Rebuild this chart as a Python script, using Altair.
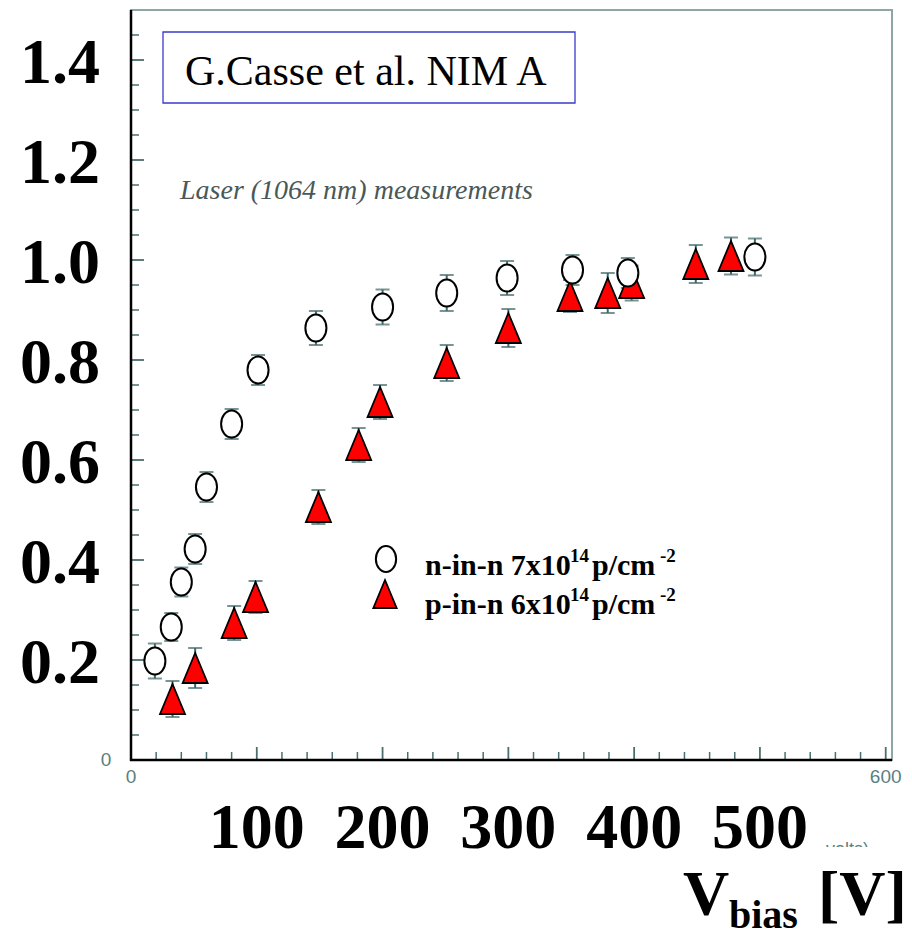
import altair as alt
import pandas as pd

# ---------------- data ----------------
# n-in-n 7x10^14 p/cm^2  (open circles)
n_vbias = [19, 32, 40, 51, 60, 80, 101, 147, 200, 251, 299, 351, 395, 496]
n_cce = [0.198, 0.266, 0.356, 0.422, 0.546, 0.672, 0.780, 0.864, 0.906, 0.934, 0.964, 0.980, 0.974, 1.006]
n_err = [0.035, 0.028, 0.029, 0.030, 0.030, 0.030, 0.030, 0.034, 0.035, 0.036, 0.034, 0.030, 0.030, 0.037]

# p-in-n 6x10^14 p/cm^2  (red triangles)
p_vbias = [33, 51, 82, 99, 149, 181, 198, 251, 300, 349, 379, 398, 449, 477]
p_cce = [0.122, 0.184, 0.274, 0.326, 0.506, 0.630, 0.716, 0.794, 0.864, 0.928, 0.934, 0.954, 0.992, 1.008]
p_err = [0.036, 0.040, 0.034, 0.032, 0.034, 0.034, 0.034, 0.036, 0.038, 0.032, 0.040, 0.035, 0.038, 0.037]

# big overlay tick labels
x_big_vals = [100, 200, 300, 400, 500]
x_big_text = ["100", "200", "300", "400", "500"]
y_big_vals = [0.2, 0.4, 0.6, 0.8, 1.0, 1.2, 1.4]
y_big_text = ["0.2", "0.4", "0.6", "0.8", "1.0", "1.2", "1.4"]

# small original axis labels
x_small_vals = [0, 600]
x_small_text = ["0", "600"]
y_small_vals = [0]
y_small_text = ["0"]

# inner tick marks of the original frame
y_minor = [0.05, 0.1, 0.15, 0.25, 0.3, 0.35, 0.45, 0.5, 0.55, 0.65, 0.7, 0.75,
           0.85, 0.9, 0.95, 1.05, 1.1, 1.15, 1.25, 1.3, 1.35, 1.45]
y_major = [0.2, 0.4, 0.6, 0.8, 1.0, 1.2, 1.4]
x_minor = [20, 40, 60, 80, 120, 140, 160, 180, 220, 240, 260, 280, 320, 340, 360, 380,
           420, 440, 460, 480, 520, 540, 560, 580]
x_major = [100, 200, 300, 400, 500, 600]

# ---------------- styles ----------------
SERIF = "Liberation Serif, Times New Roman, serif"
SANS = "Liberation Sans, Arial, sans-serif"
ERR_COLOR = "#3f6868"
TICK_COLOR = "#4a6f6f"
SMALL_COLOR = "#5b8080"
ELLIPSE = "M0,-1A0.78,1 0 1,1 0,1A0.78,1 0 1,1 0,-1Z"
TRIANGLE = "M0,-1L0.833,1L-0.833,1Z"

XS = alt.Scale(domain=[0, 605], nice=False, zero=False)
YS = alt.Scale(domain=[0, 1.5], nice=False, zero=False)

n_df = pd.DataFrame({"v": n_vbias, "c": n_cce,
                     "lo": [c - e for c, e in zip(n_cce, n_err)],
                     "hi": [c + e for c, e in zip(n_cce, n_err)]})
p_df = pd.DataFrame({"v": p_vbias, "c": p_cce,
                     "lo": [c - e for c, e in zip(p_cce, p_err)],
                     "hi": [c + e for c, e in zip(p_cce, p_err)]})
err_df = pd.concat([n_df, p_df], ignore_index=True)

one = alt.Data(values=[{}])


def X(f):
    return alt.X(f, scale=XS, axis=None)


def Y(f):
    return alt.Y(f, scale=YS, axis=None)


# error bars
err_rule = alt.Chart(err_df).mark_rule(color=ERR_COLOR, strokeWidth=2).encode(
    x=X("v:Q"), y=Y("lo:Q"), y2="hi:Q")
cap_lo = alt.Chart(err_df).mark_tick(orient="horizontal", size=14, thickness=2,
                                     color=ERR_COLOR).encode(x=X("v:Q"), y=Y("lo:Q"))
cap_hi = alt.Chart(err_df).mark_tick(orient="horizontal", size=14, thickness=2,
                                     color=ERR_COLOR).encode(x=X("v:Q"), y=Y("hi:Q"))

tri = alt.Chart(p_df).mark_point(shape=TRIANGLE, size=900, filled=True, fill="#ff0000",
                                 stroke="#000000", strokeWidth=1.8, opacity=1).encode(
    x=X("v:Q"), y=Y("c:Q"))
circ = alt.Chart(n_df).mark_point(shape=ELLIPSE, size=729, filled=True, fill="#ffffff",
                                  stroke="#000000", strokeWidth=2, opacity=1).encode(
    x=X("v:Q"), y=Y("c:Q"))

# inner ticks
yt_minor = alt.Chart(pd.DataFrame({"t": y_minor})).mark_rule(color=TICK_COLOR, strokeWidth=1.5).encode(
    y=Y("t:Q"), x=alt.value(0), x2=alt.value(8))
yt_major = alt.Chart(pd.DataFrame({"t": y_major})).mark_rule(color=TICK_COLOR, strokeWidth=1.8).encode(
    y=Y("t:Q"), x=alt.value(0), x2=alt.value(13))
xt_minor = alt.Chart(pd.DataFrame({"t": x_minor})).mark_rule(color=TICK_COLOR, strokeWidth=1.5).encode(
    x=X("t:Q"), y=alt.value(750), y2=alt.value(742))
xt_major = alt.Chart(pd.DataFrame({"t": x_major})).mark_rule(color=TICK_COLOR, strokeWidth=1.8).encode(
    x=X("t:Q"), y=alt.value(750), y2=alt.value(737))

# black axis lines (left and bottom of the frame)
left_line = alt.Chart(one).mark_rule(color="#000000", strokeWidth=2.5).encode(
    x=alt.value(0), y=alt.value(0), y2=alt.value(751))
bottom_line = alt.Chart(one).mark_rule(color="#000000", strokeWidth=2.5).encode(
    x=alt.value(-1), x2=alt.value(761), y=alt.value(750))

# small original tick labels
x_small = alt.Chart(pd.DataFrame({"t": x_small_vals, "s": x_small_text})).mark_text(
    font=SANS, fontSize=19, align="center", baseline="middle", color=SMALL_COLOR).encode(
    x=X("t:Q"), y=alt.value(767), text="s:N")
y_small = alt.Chart(pd.DataFrame({"t": y_small_vals, "s": y_small_text})).mark_text(
    font=SANS, fontSize=19, align="center", baseline="middle", color=SMALL_COLOR).encode(
    y=Y("t:Q"), x=alt.value(-25), text="s:N")

# cut-off "(volts)" fragment of the original axis title
volts = alt.Chart(one).mark_text(text="volts)", font=SANS, fontSize=18, align="left",
                                 baseline="alphabetic", color=SMALL_COLOR).encode(
    x=alt.value(695), y=alt.value(845))
volts_cover = alt.Chart(one).mark_rect(fill="#ffffff").encode(
    x=alt.value(688), x2=alt.value(770), y=alt.value(837), y2=alt.value(852))

# big overlay labels
y_big = alt.Chart(pd.DataFrame({"t": y_big_vals, "s": y_big_text})).mark_text(
    font=SERIF, fontWeight="bold", fontSize=64, align="center", baseline="alphabetic",
    dy=23, color="#000000").encode(
    y=Y("t:Q"), x=alt.value(-71), text="s:N")
x_big = alt.Chart(pd.DataFrame({"t": x_big_vals, "s": x_big_text})).mark_text(
    font=SERIF, fontWeight="bold", fontSize=64, align="center", baseline="alphabetic",
    color="#000000").encode(
    x=X("t:Q"), y=alt.value(838), text="s:N")


def txt(s, x, y, size, weight="normal", style="normal", color="#000000", font=SERIF):
    return alt.Chart(one).mark_text(text=s, font=font, fontSize=size, fontWeight=weight,
                                    fontStyle=style, color=color, align="left",
                                    baseline="alphabetic").encode(
        x=alt.value(x), y=alt.value(y))


box = alt.Chart(one).mark_rect(fill="#ffffff", stroke="#3a3acc", strokeWidth=1.3).encode(
    x=alt.value(32), x2=alt.value(444), y=alt.value(22), y2=alt.value(93))

leg_circ = alt.Chart(one).mark_point(shape=ELLIPSE, size=676, filled=True, fill="#ffffff",
                                     stroke="#000000", strokeWidth=2, opacity=1).encode(
    x=alt.value(255), y=alt.value(549))
leg_tri = alt.Chart(one).mark_point(shape=TRIANGLE, size=784, filled=True, fill="#ff0000",
                                    stroke="#000000", strokeWidth=1.8, opacity=1).encode(
    x=alt.value(254), y=alt.value(584))

texts = [
    txt("G.Casse et al. NIM A", 54, 75, 42),
    txt("Laser (1064 nm) measurements", 49, 189, 28, style="italic", color="#4a5858"),
    txt("n-in-n 7x10", 294, 565, 30, weight="bold"),
    txt("14", 439, 552, 19, weight="bold"),
    txt("p/cm", 461, 565, 30, weight="bold"),
    txt("-2", 529, 552, 19, weight="bold"),
    txt("p-in-n 6x10", 294, 604, 30, weight="bold"),
    txt("14", 439, 591, 19, weight="bold"),
    txt("p/cm", 461, 604, 30, weight="bold"),
    txt("-2", 529, 591, 19, weight="bold"),
    txt("V", 552, 905, 64, weight="bold"),
    txt("bias", 598, 918, 40, weight="bold"),
    txt("[V]", 687, 905, 64, weight="bold"),
]

chart = alt.layer(
    err_rule, cap_lo, cap_hi, yt_minor, yt_major, xt_minor, xt_major,
    tri, circ, left_line, bottom_line, x_small, y_small, volts, volts_cover,
    box, leg_circ, leg_tri, y_big, x_big, *texts
).properties(
    width=761, height=750,
    padding={"left": 131, "top": 10, "right": 20, "bottom": 174},
    autosize="none",
    background="#ffffff",
).configure_view(stroke="#8fa6a6", strokeWidth=2)

chart.save("out.html", embed_options={"renderer": "svg", "actions": False})
